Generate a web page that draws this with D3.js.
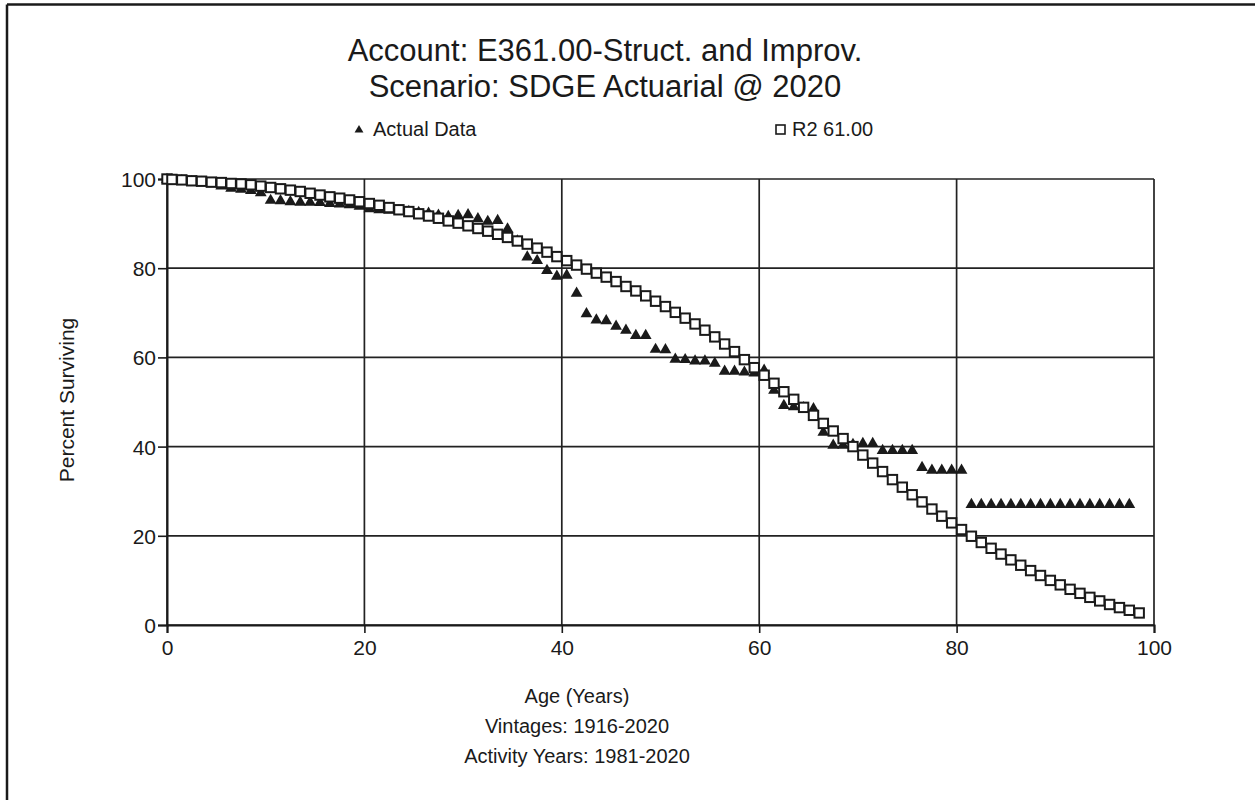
<!DOCTYPE html>
<html>
<head>
<meta charset="utf-8">
<script src="https://cdn.jsdelivr.net/npm/d3@7/dist/d3.min.js"></script>
<style>
  html, body { margin: 0; padding: 0; background: #fff; }
  svg { display: block; font-family: "Liberation Sans", Arial, sans-serif; }
</style>
</head>
<body>
<svg id="chart" width="1255" height="800"></svg>
<script>
// Observed survivorship (Actual Data), age in years -> percent surviving
const actualAges = [0, 0.5, 1.5, 2.5, 3.5, 4.5, 5.5, 6.5, 7.5, 8.5, 9.5,
  10.5, 11.5, 12.5, 13.5, 14.5, 15.5, 16.5, 17.5, 18.5, 19.5,
  20.5, 21.5, 22.5, 23.5, 24.5, 25.5, 26.5, 27.5, 28.5, 29.5,
  30.5, 31.5, 32.5, 33.5, 34.5, 35.5, 36.5, 37.5, 38.5, 39.5,
  40.5, 41.5, 42.5, 43.5, 44.5, 45.5, 46.5, 47.5, 48.5, 49.5,
  50.5, 51.5, 52.5, 53.5, 54.5, 55.5, 56.5, 57.5, 58.5, 59.5,
  60.5, 61.5, 62.5, 63.5, 64.5, 65.5, 66.5, 67.5, 68.5, 69.5,
  70.5, 71.5, 72.5, 73.5, 74.5, 75.5, 76.5, 77.5, 78.5, 79.5,
  80.5, 81.5, 82.5, 83.5, 84.5, 85.5, 86.5, 87.5, 88.5, 89.5,
  90.5, 91.5, 92.5, 93.5, 94.5, 95.5, 96.5, 97.5];
const actualPct = [100, 99.9, 99.7, 99.5, 99.3, 99.0, 98.5, 98.0, 97.8, 97.5, 97.0,
  95.3, 95.2, 95.0, 94.9, 94.9, 94.8, 94.6, 94.5, 94.3, 94.0,
  93.4, 93.2, 93.1, 93.0, 92.8, 92.6, 92.4, 92.0, 91.7, 91.9,
  92.1, 91.2, 90.6, 90.8, 88.9, 86.2, 82.6, 81.8, 79.6, 78.3,
  78.5, 74.5, 69.9, 68.5, 68.3, 67.1, 66.2, 65.0, 65.0, 61.9,
  61.8, 59.7, 59.6, 59.3, 59.3, 58.8, 57.0, 57.0, 56.8, 56.6,
  57.2, 52.7, 49.3, 49.0, 48.8, 48.6, 43.3, 40.4, 40.4, 40.6,
  40.8, 40.8, 39.2, 39.2, 39.2, 39.2, 35.4, 34.8, 34.8, 34.8,
  34.8, 27.1, 27.1, 27.1, 27.1, 27.1, 27.1, 27.1, 27.1, 27.1,
  27.1, 27.1, 27.1, 27.1, 27.1, 27.1, 27.1, 27.1];

// Fitted Iowa R2 curve, average life 61.00
const fitAges = [0, 0.5, 1.5, 2.5, 3.5, 4.5, 5.5, 6.5, 7.5, 8.5, 9.5,
  10.5, 11.5, 12.5, 13.5, 14.5, 15.5, 16.5, 17.5, 18.5, 19.5,
  20.5, 21.5, 22.5, 23.5, 24.5, 25.5, 26.5, 27.5, 28.5, 29.5,
  30.5, 31.5, 32.5, 33.5, 34.5, 35.5, 36.5, 37.5, 38.5, 39.5,
  40.5, 41.5, 42.5, 43.5, 44.5, 45.5, 46.5, 47.5, 48.5, 49.5,
  50.5, 51.5, 52.5, 53.5, 54.5, 55.5, 56.5, 57.5, 58.5, 59.5,
  60.5, 61.5, 62.5, 63.5, 64.5, 65.5, 66.5, 67.5, 68.5, 69.5,
  70.5, 71.5, 72.5, 73.5, 74.5, 75.5, 76.5, 77.5, 78.5, 79.5,
  80.5, 81.5, 82.5, 83.5, 84.5, 85.5, 86.5, 87.5, 88.5, 89.5,
  90.5, 91.5, 92.5, 93.5, 94.5, 95.5, 96.5, 97.5, 98.5];
const fitPct = [100, 99.9, 99.8, 99.6, 99.5, 99.3, 99.2, 99.0, 98.9, 98.7, 98.4,
  98.1, 97.8, 97.5, 97.2, 96.8, 96.4, 96.0, 95.7, 95.3, 94.9,
  94.5, 94.1, 93.6, 93.1, 92.7, 92.2, 91.7, 91.2, 90.6, 90.1,
  89.5, 88.9, 88.3, 87.6, 86.9, 86.1, 85.4, 84.5, 83.6, 82.6,
  81.7, 80.7, 79.8, 78.9, 78.0, 77.0, 75.9, 74.9, 73.8, 72.6,
  71.4, 70.1, 68.8, 67.5, 66.1, 64.6, 63.0, 61.3, 59.5, 57.7,
  56.0, 54.2, 52.3, 50.6, 48.8, 47.0, 45.2, 43.5, 41.8, 40.0,
  38.1, 36.3, 34.4, 32.6, 30.9, 29.2, 27.6, 26.0, 24.4, 22.9,
  21.4, 19.9, 18.5, 17.2, 15.9, 14.6, 13.4, 12.2, 11.1, 10.0,
  9.0, 8.0, 7.1, 6.2, 5.4, 4.6, 3.9, 3.3, 2.7];

const xTicks = [0, 20, 40, 60, 80, 100];
const yTicks = [0, 20, 40, 60, 80, 100];

const titleLines = ["Account: E361.00-Struct. and Improv.", "Scenario: SDGE Actuarial @ 2020"];
const xTitleLines = ["Age (Years)", "Vintages: 1916-2020", "Activity Years: 1981-2020"];
const yTitle = "Percent Surviving";
const seriesNames = ["Actual Data", "R2 61.00"];

const ink = "#1a1a1a";
const svg = d3.select("#chart");

// Outer frame (top and left edges)
svg.append("line").attr("x1", 7).attr("x2", 1255).attr("y1", 4.5).attr("y2", 4.5)
  .attr("stroke", ink).attr("stroke-width", 2.5);
svg.append("line").attr("x1", 7).attr("x2", 7).attr("y1", 4.5).attr("y2", 800)
  .attr("stroke", ink).attr("stroke-width", 2.5);

const plot = { left: 167, right: 1154, top: 179, bottom: 625 };
const x = d3.scaleLinear().domain([0, 100]).range([plot.left, plot.right]);
const y = d3.scaleLinear().domain([0, 100]).range([plot.bottom, plot.top]);

// Grid
const grid = svg.append("g").attr("stroke", "#222").attr("stroke-width", 1.7);
grid.selectAll("line.gx").data(xTicks).join("line")
  .attr("x1", d => x(d)).attr("x2", d => x(d))
  .attr("y1", plot.top).attr("y2", plot.bottom);
grid.selectAll("line.gy").data(yTicks).join("line")
  .attr("x1", plot.left).attr("x2", plot.right)
  .attr("y1", d => y(d)).attr("y2", d => y(d));

// Axes
const xAxis = svg.append("g").attr("transform", `translate(0,${plot.bottom})`)
  .call(d3.axisBottom(x).tickValues(xTicks).tickSize(8).tickPadding(7).tickFormat(d3.format("d")));
const yAxis = svg.append("g").attr("transform", `translate(${plot.left},0)`)
  .call(d3.axisLeft(y).tickValues(yTicks).tickSize(9).tickPadding(2).tickFormat(d3.format("d")));
[xAxis, yAxis].forEach(a => {
  a.select(".domain").attr("stroke", ink).attr("stroke-width", 2);
  a.selectAll(".tick line").attr("stroke", ink).attr("stroke-width", 1.6);
  a.selectAll(".tick text").attr("fill", ink).attr("font-size", 21)
    .attr("font-family", "'Liberation Sans', Arial, sans-serif");
});
yAxis.selectAll(".tick text").attr("dy", "0.36em");

// Series: triangles (actual) beneath squares (fitted)
const tri = d3.symbol().type(d3.symbolTriangle).size(60);
svg.append("g").selectAll("path").data(actualAges.map((a, i) => [a, actualPct[i]])).join("path")
  .attr("d", tri)
  .attr("transform", d => `translate(${x(d[0])},${y(d[1]) + 0.5})`)
  .attr("fill", ink);

const sq = 9.4;
svg.append("g").selectAll("rect").data(fitAges.map((a, i) => [a, fitPct[i]])).join("rect")
  .attr("x", d => x(d[0]) - sq / 2).attr("y", d => y(d[1]) - sq / 2)
  .attr("width", sq).attr("height", sq)
  .attr("fill", "#fff").attr("stroke", ink).attr("stroke-width", 2);

// Titles
svg.append("g").selectAll("text").data(titleLines).join("text")
  .attr("x", 605).attr("y", (d, i) => 61 + i * 36)
  .attr("text-anchor", "middle").attr("font-size", 31).attr("fill", ink)
  .text(d => d);

// Legend
const legend = svg.append("g").attr("font-size", 20).attr("fill", ink);
legend.append("path").attr("d", d3.symbol().type(d3.symbolTriangle).size(34))
  .attr("transform", "translate(359,130)").attr("fill", ink);
legend.append("text").attr("x", 373).attr("y", 136).text(seriesNames[0]);
legend.append("rect").attr("x", 776).attr("y", 125).attr("width", 9).attr("height", 9)
  .attr("fill", "#fff").attr("stroke", ink).attr("stroke-width", 1.6);
legend.append("text").attr("x", 792).attr("y", 136).text(seriesNames[1]);

// Axis titles
svg.append("text").attr("transform", "translate(74,400) rotate(-90)")
  .attr("text-anchor", "middle").attr("font-size", 21).attr("fill", ink).text(yTitle);
svg.append("g").selectAll("text").data(xTitleLines).join("text")
  .attr("x", 577).attr("y", (d, i) => 703 + i * 30)
  .attr("text-anchor", "middle").attr("font-size", 20).attr("fill", ink)
  .text(d => d);
</script>
</body>
</html>
